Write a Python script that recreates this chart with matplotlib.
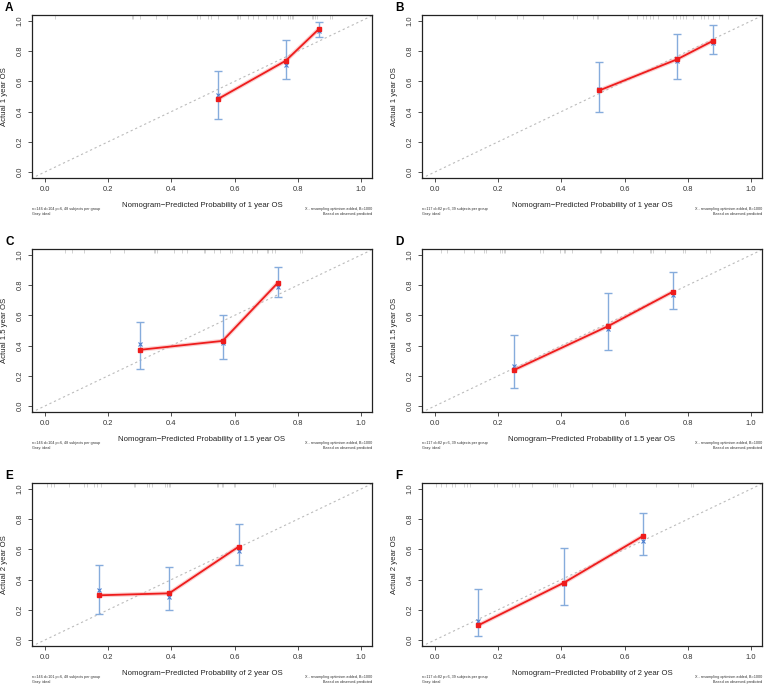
import matplotlib
matplotlib.use('Agg')
import matplotlib.pyplot as plt

plt.rcParams['font.family'] = ['Liberation Sans', 'DejaVu Sans']

# panel letters and time points
letters = ['A', 'B', 'C', 'D', 'E', 'F']
times = ['1', '1', '1.5', '1.5', '2', '2']
notes = ['n=146 d=104 p=6, 48 subjects per group', 'n=117 d=82 p=6, 39 subjects per group',
         'n=146 d=104 p=6, 48 subjects per group', 'n=117 d=82 p=6, 39 subjects per group',
         'n=146 d=101 p=6, 48 subjects per group', 'n=117 d=82 p=6, 39 subjects per group']

# mean predicted probability per group
pred_a = [0.549, 0.762, 0.867]
pred_b = [0.520, 0.766, 0.880]
pred_c = [0.301, 0.562, 0.737]
pred_d = [0.249, 0.548, 0.753]
pred_e = [0.171, 0.393, 0.613]
pred_f = [0.136, 0.407, 0.657]

# observed (Kaplan-Meier) survival per group
obs_a = [0.485, 0.737, 0.947]
obs_b = [0.540, 0.746, 0.869]
obs_c = [0.372, 0.431, 0.816]
obs_d = [0.237, 0.529, 0.757]
obs_e = [0.296, 0.309, 0.618]
obs_f = [0.096, 0.378, 0.687]

# bias-corrected estimates (X)
corr_a = [0.509, 0.708, 0.936]
corr_b = [0.553, 0.735, 0.852]
corr_c = [0.409, 0.414, 0.790]
corr_d = [0.265, 0.513, 0.735]
corr_e = [0.333, 0.287, 0.589]
corr_f = [0.124, 0.373, 0.656]

# confidence limits
lo_a = [0.354, 0.619, 0.892]
hi_a = [0.666, 0.874, 0.996]
lo_b = [0.400, 0.613, 0.779]
hi_b = [0.726, 0.912, 0.971]
lo_c = [0.248, 0.308, 0.719]
hi_c = [0.558, 0.606, 0.923]
lo_d = [0.119, 0.374, 0.642]
hi_d = [0.473, 0.746, 0.889]
lo_e = [0.173, 0.196, 0.498]
hi_e = [0.500, 0.484, 0.767]
lo_f = [0.027, 0.233, 0.562]
hi_f = [0.338, 0.611, 0.838]

# rug of predicted probabilities
rug_a = [0.032, 0.274, 0.28, 0.301, 0.353, 0.385, 0.48, 0.49, 0.517, 0.527, 0.549, 0.607, 0.612, 0.617,
         0.643, 0.659, 0.675, 0.701, 0.723, 0.733, 0.744, 0.77, 0.775, 0.781, 0.786, 0.844, 0.849, 0.854,
         0.86, 0.902, 0.907]
rug_b = [0.133, 0.191, 0.259, 0.28, 0.343, 0.438, 0.449, 0.501, 0.512, 0.517, 0.611, 0.638, 0.659, 0.669,
         0.68, 0.69, 0.706, 0.753, 0.764, 0.774, 0.785, 0.795, 0.816, 0.842, 0.853, 0.863, 0.879, 0.9, 0.926]
rug_c = [0.065, 0.086, 0.123, 0.207, 0.249, 0.344, 0.349, 0.355, 0.407, 0.434, 0.449, 0.502, 0.507, 0.534,
         0.555, 0.586, 0.592, 0.628, 0.655, 0.671, 0.702, 0.707, 0.718, 0.728, 0.807, 0.813]
rug_d = [0.018, 0.039, 0.091, 0.123, 0.154, 0.16, 0.207, 0.212, 0.217, 0.223, 0.333, 0.343, 0.396, 0.407,
         0.412, 0.433, 0.522, 0.527, 0.575, 0.627, 0.68, 0.685, 0.69, 0.727, 0.785, 0.79, 0.858, 0.869]
rug_e = [0.007, 0.018, 0.028, 0.076, 0.123, 0.134, 0.155, 0.165, 0.176, 0.281, 0.286, 0.323, 0.328, 0.339,
         0.381, 0.386, 0.392, 0.397, 0.544, 0.549, 0.56, 0.565, 0.597, 0.602, 0.723, 0.728]
rug_f = [0.002, 0.018, 0.034, 0.055, 0.065, 0.091, 0.102, 0.112, 0.186, 0.196, 0.244, 0.254, 0.265, 0.307,
         0.375, 0.38, 0.386, 0.428, 0.438, 0.496, 0.564, 0.569, 0.606, 0.701, 0.769, 0.811, 0.816]

preds = [pred_a, pred_b, pred_c, pred_d, pred_e, pred_f]
obss = [obs_a, obs_b, obs_c, obs_d, obs_e, obs_f]
corrs = [corr_a, corr_b, corr_c, corr_d, corr_e, corr_f]
los = [lo_a, lo_b, lo_c, lo_d, lo_e, lo_f]
his = [hi_a, hi_b, hi_c, hi_d, hi_e, hi_f]
rugs = [rug_a, rug_b, rug_c, rug_d, rug_e, rug_f]

W, H = 764, 684
fig = plt.figure(figsize=(W / 100, H / 100), dpi=100)

lefts = [32, 422]
tops = [15, 249, 483]
boxW, boxH = 340, 163

ticks = [0.0, 0.2, 0.4, 0.6, 0.8, 1.0]
for i in range(6):
    row, col = i // 2, i % 2
    x0, y0 = lefts[col], tops[row]
    ax = fig.add_axes([x0 / W, 1 - (y0 + boxH) / H, boxW / W, boxH / H])

    ax.plot([-0.1, 1.1], [-0.1, 1.1], color='#bcbcbc', lw=0.8, ls=(0, (2, 2.5)))
    ax.vlines(rugs[i], 1.012, 1.038, color='#999999', lw=0.5, alpha=0.6)

    ax.errorbar(preds[i], corrs[i],
                yerr=[[c - l for c, l in zip(corrs[i], los[i])], [h - c for c, h in zip(corrs[i], his[i])]],
                fmt='none', ecolor='#86acdc', elinewidth=1.0, capsize=3, capthick=1.0)
    ax.plot(preds[i], corrs[i], ls='none', marker='x', color='#4d7fd0', ms=3.5, mew=0.8)
    ax.plot(preds[i], obss[i], color='#f7a0a0', lw=3.0, alpha=0.5, solid_capstyle='butt')
    ax.plot(preds[i], obss[i], color='#ee1c1c', lw=1.3, marker='s', ms=2.8, mec='#ee1c1c')

    ax.set_xlim(-0.041, 1.035)
    ax.set_ylim(-0.04, 1.04)
    ax.set_xticks(ticks)
    ax.set_yticks(ticks)
    ax.set_xticklabels(['{0:.1f}'.format(t) for t in ticks])
    ax.set_yticklabels(['{0:.1f}'.format(t) for t in ticks], rotation=90, va='center')
    ax.tick_params(labelsize=5.4, length=3, width=0.6, pad=3, colors='#333333')
    for s in ax.spines.values():
        s.set_linewidth(0.9)
        s.set_color('#222222')

    ax.set_xlabel('Nomogram\u2212Predicted Probability of {0} year OS'.format(times[i]), fontsize=5.6,
                  labelpad=6, color='#222222')
    ax.set_ylabel('Actual {0} year OS'.format(times[i]), fontsize=5.6, labelpad=6, color='#222222')

    ax.text(0.0, -0.205, notes[i] + '\nGray: ideal', transform=ax.transAxes, fontsize=2.7,
            ha='left', va='center', linespacing=1.1, color='#333333')
    ax.text(1.0, -0.205, 'X - resampling optimism added, B=1000\nBased on observed-predicted',
            transform=ax.transAxes, fontsize=2.7, ha='right', va='center', linespacing=1.1,
            multialignment='right', color='#333333')

    fig.text((x0 - 27) / W, 1 - (y0 - 7) / H, letters[i], fontsize=8.5, fontweight='bold',
             ha='left', va='center')

fig.savefig('out.png', dpi=100)
